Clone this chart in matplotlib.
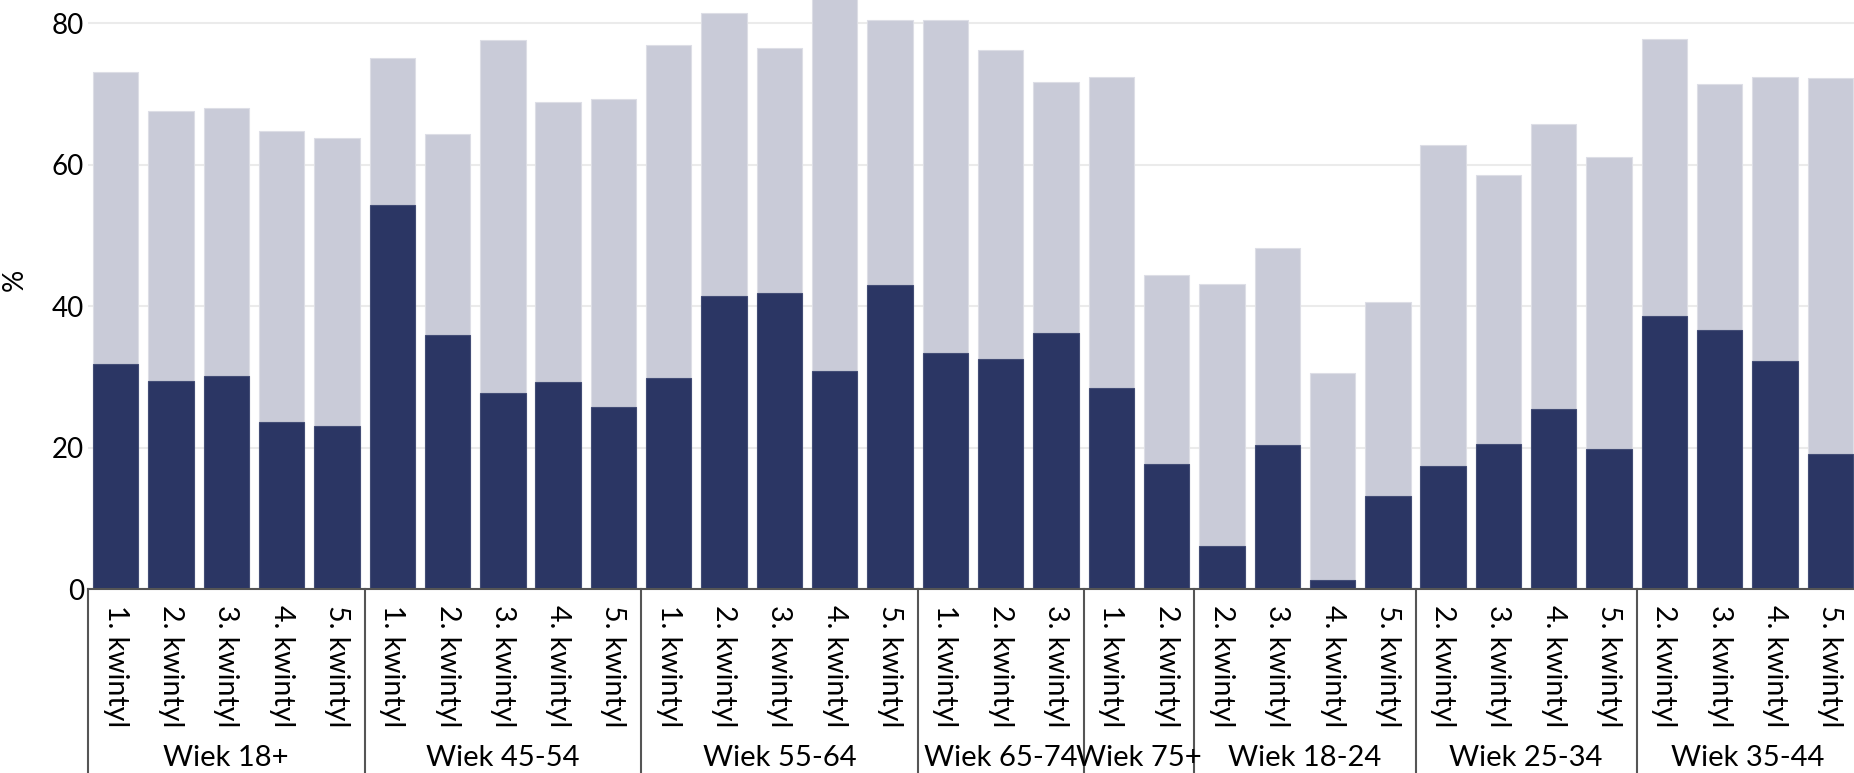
import numpy as np
import matplotlib
matplotlib.use('Agg')
import matplotlib.pyplot as plt
import matplotlib.transforms as mtransforms

plt.rcParams['font.family'] = ['Lato', 'DejaVu Sans']

# grupy wiekowe i liczba kwintyli w kazdej
GROUPS = ['Wiek 18+', 'Wiek 45-54', 'Wiek 55-64', 'Wiek 65-74', 'Wiek 75+',
          'Wiek 18-24', 'Wiek 25-34', 'Wiek 35-44']
QUINTILES = [
    ['1. kwintyl', '2. kwintyl', '3. kwintyl', '4. kwintyl', '5. kwintyl'],
    ['1. kwintyl', '2. kwintyl', '3. kwintyl', '4. kwintyl', '5. kwintyl'],
    ['1. kwintyl', '2. kwintyl', '3. kwintyl', '4. kwintyl', '5. kwintyl'],
    ['1. kwintyl', '2. kwintyl', '3. kwintyl'],
    ['1. kwintyl', '2. kwintyl'],
    ['2. kwintyl', '3. kwintyl', '4. kwintyl', '5. kwintyl'],
    ['2. kwintyl', '3. kwintyl', '4. kwintyl', '5. kwintyl'],
    ['2. kwintyl', '3. kwintyl', '4. kwintyl', '5. kwintyl'],
]

# wartosci (%) - slupki jasne (calosc) i ciemne (czesc)
TOTAL = [73.1, 67.6, 68.0, 64.8, 63.8,
         75.0, 64.3, 77.6, 68.9, 69.2,
         76.9, 81.4, 76.5, 84.0, 80.4,
         80.4, 76.2, 71.6,
         72.4, 44.4,
         43.1, 48.2, 30.5, 40.6,
         62.7, 58.5, 65.8, 61.1,
         77.7, 71.4, 72.4, 72.2]
PART = [31.9, 29.4, 30.1, 23.7, 23.1,
        54.3, 35.9, 27.8, 29.3, 25.8,
        29.9, 41.5, 41.8, 30.9, 43.0,
        33.4, 32.6, 36.2,
        28.4, 17.7,
        6.1, 20.4, 1.3, 13.2,
        17.4, 20.6, 25.5, 19.9,
        38.6, 36.7, 32.3, 19.1]

LIGHT = '#c9cbd8'
DARK = '#2b3664'

W, H = 1854, 773
fig = plt.figure(figsize=(W / 100, H / 100), dpi=100)
ax_bottom = 589.4
ax = fig.add_axes([88 / W, (H - ax_bottom) / H, (1858 - 88) / W, ax_bottom / H])

labels = [q for grp in QUINTILES for q in grp]
x = np.arange(len(labels))

ax.bar(x, TOTAL, width=0.82, color=LIGHT, edgecolor='#dddee6', linewidth=0.8, zorder=2)
ax.bar(x, PART, width=0.82, color=DARK, edgecolor='#434d76', linewidth=0.8, zorder=3)

ax.set_xlim(-0.5, len(labels) - 0.5)
ax.set_ylim(0, 83.25)
ax.set_yticks([0, 20, 40, 60, 80])
ax.grid(axis='y', color='#ebebeb', linewidth=1.5, zorder=0)
ax.set_axisbelow(True)

for s in ['top', 'right', 'left']:
    ax.spines[s].set_visible(False)
ax.spines['bottom'].set_color('#555555')
ax.spines['bottom'].set_linewidth(1.5)
ax.spines['bottom'].set_zorder(4)

ax.set_xticks(x)
ax.set_xticklabels(labels, rotation=-90, va='top', ha='center', fontsize=20.5)
ax.tick_params(axis='x', length=0, pad=11)
ax.tick_params(axis='y', length=0, pad=3, labelsize=20)
ax.set_ylabel('%', fontsize=20)
ax.yaxis.set_label_coords(-0.034, 0.525)

# separatory grup i nazwy grup pod osia
trans = mtransforms.blended_transform_factory(ax.transData, ax.transAxes)
start = 0
for name, grp in zip(GROUPS, QUINTILES):
    n = len(grp)
    ax.plot([start - 0.5, start - 0.5], [0, -0.32], transform=trans,
            color='#555555', linewidth=1.5, clip_on=False)
    ax.text(start + (n - 1) / 2, -0.286, name, transform=trans,
            ha='center', va='center', fontsize=21)
    start += n

fig.savefig('out.png', dpi=100)
